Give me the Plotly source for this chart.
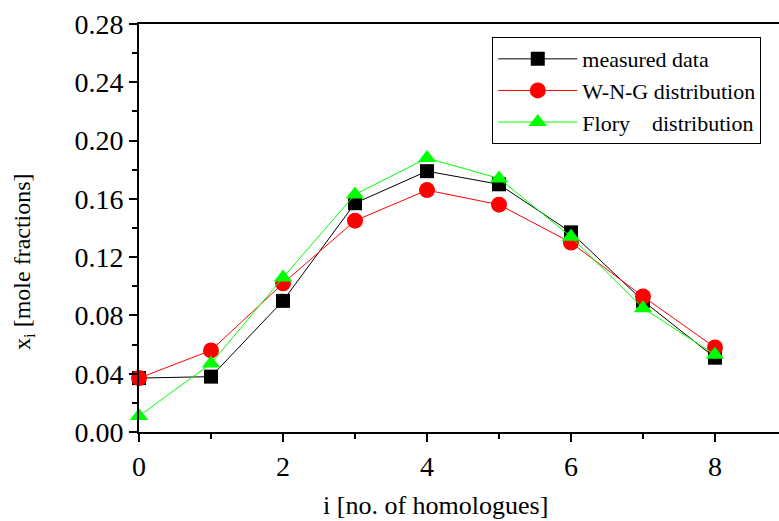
import plotly.graph_objects as go

homologues = [0, 1, 2, 3, 4, 5, 6, 7, 8]
measured = [0.037, 0.038, 0.090, 0.157, 0.179, 0.170, 0.137, 0.090, 0.051]
wng = [0.037, 0.056, 0.102, 0.145, 0.166, 0.156, 0.130, 0.093, 0.058]
flory = [0.011, 0.047, 0.106, 0.163, 0.188, 0.174, 0.134, 0.085, 0.053]

FONT = "Liberation Serif, Times New Roman, serif"

fig = go.Figure()
series = [
    ("measured data", measured, "black", "square", 14),
    ("W-N-G distribution", wng, "red", "circle", 16),
    ("Flory\u2003distribution", flory, "#00ff00", "triangle-up", 16),
]
for i, (name, vals, col, sym, sz) in enumerate(series):
    fig.add_trace(go.Scatter(
        x=homologues, y=vals, name=name, mode="lines+markers",
        line=dict(color=col, width=1),
        marker=dict(symbol=sym, size=sz, color=col, line=dict(width=0)),
        cliponaxis=False,
    ))

fig.update_layout(
    width=779, height=521,
    margin=dict(l=139, r=0, t=24, b=89),
    paper_bgcolor="white", plot_bgcolor="white",
    font=dict(family=FONT, color="black", size=28),
    showlegend=True,
    legend=dict(
        x=0.552, y=0.968, xanchor="left", yanchor="top",
        bordercolor="black", borderwidth=1, bgcolor="white",
        font=dict(family=FONT, size=22),
        itemwidth=79, entrywidth=290, entrywidthmode="pixels",
    ),
    xaxis=dict(
        range=[0, 8.889], showgrid=False, zeroline=False,
        showline=True, linecolor="black", linewidth=2, mirror=True,
        ticks="outside", ticklen=8, tickwidth=2, tickcolor="black",
        dtick=2, tick0=0,
        minor=dict(dtick=1, ticks="outside", ticklen=5, tickwidth=2, tickcolor="black"),
        tickfont=dict(size=28),
    ),
    yaxis=dict(
        range=[0, 0.28], showgrid=False, zeroline=False,
        showline=True, linecolor="black", linewidth=2, mirror=False,
        ticks="outside", ticklen=8, tickwidth=2, tickcolor="black",
        dtick=0.04, tick0=0, tickformat=".2f",
        minor=dict(dtick=0.02, ticks="outside", ticklen=5, tickwidth=2, tickcolor="black"),
        tickfont=dict(size=28),
    ),
    annotations=[
        dict(text="i [no. of homologues]", xref="paper", yref="paper",
             x=(435 - 139) / 640, y=(432 - 505) / 408, xanchor="center", yanchor="middle",
             showarrow=False, font=dict(size=26)),
        dict(text="x<sub>i</sub> [mole fractions]", xref="paper", yref="paper",
             x=(24 - 139) / 640, y=(432 - 262) / 408, xanchor="center", yanchor="middle",
             textangle=-90, showarrow=False, font=dict(size=24)),
    ],
)

fig.write_html("out.html", config={"displayModeBar": False},
               post_script="document.body.style.margin='0';")
